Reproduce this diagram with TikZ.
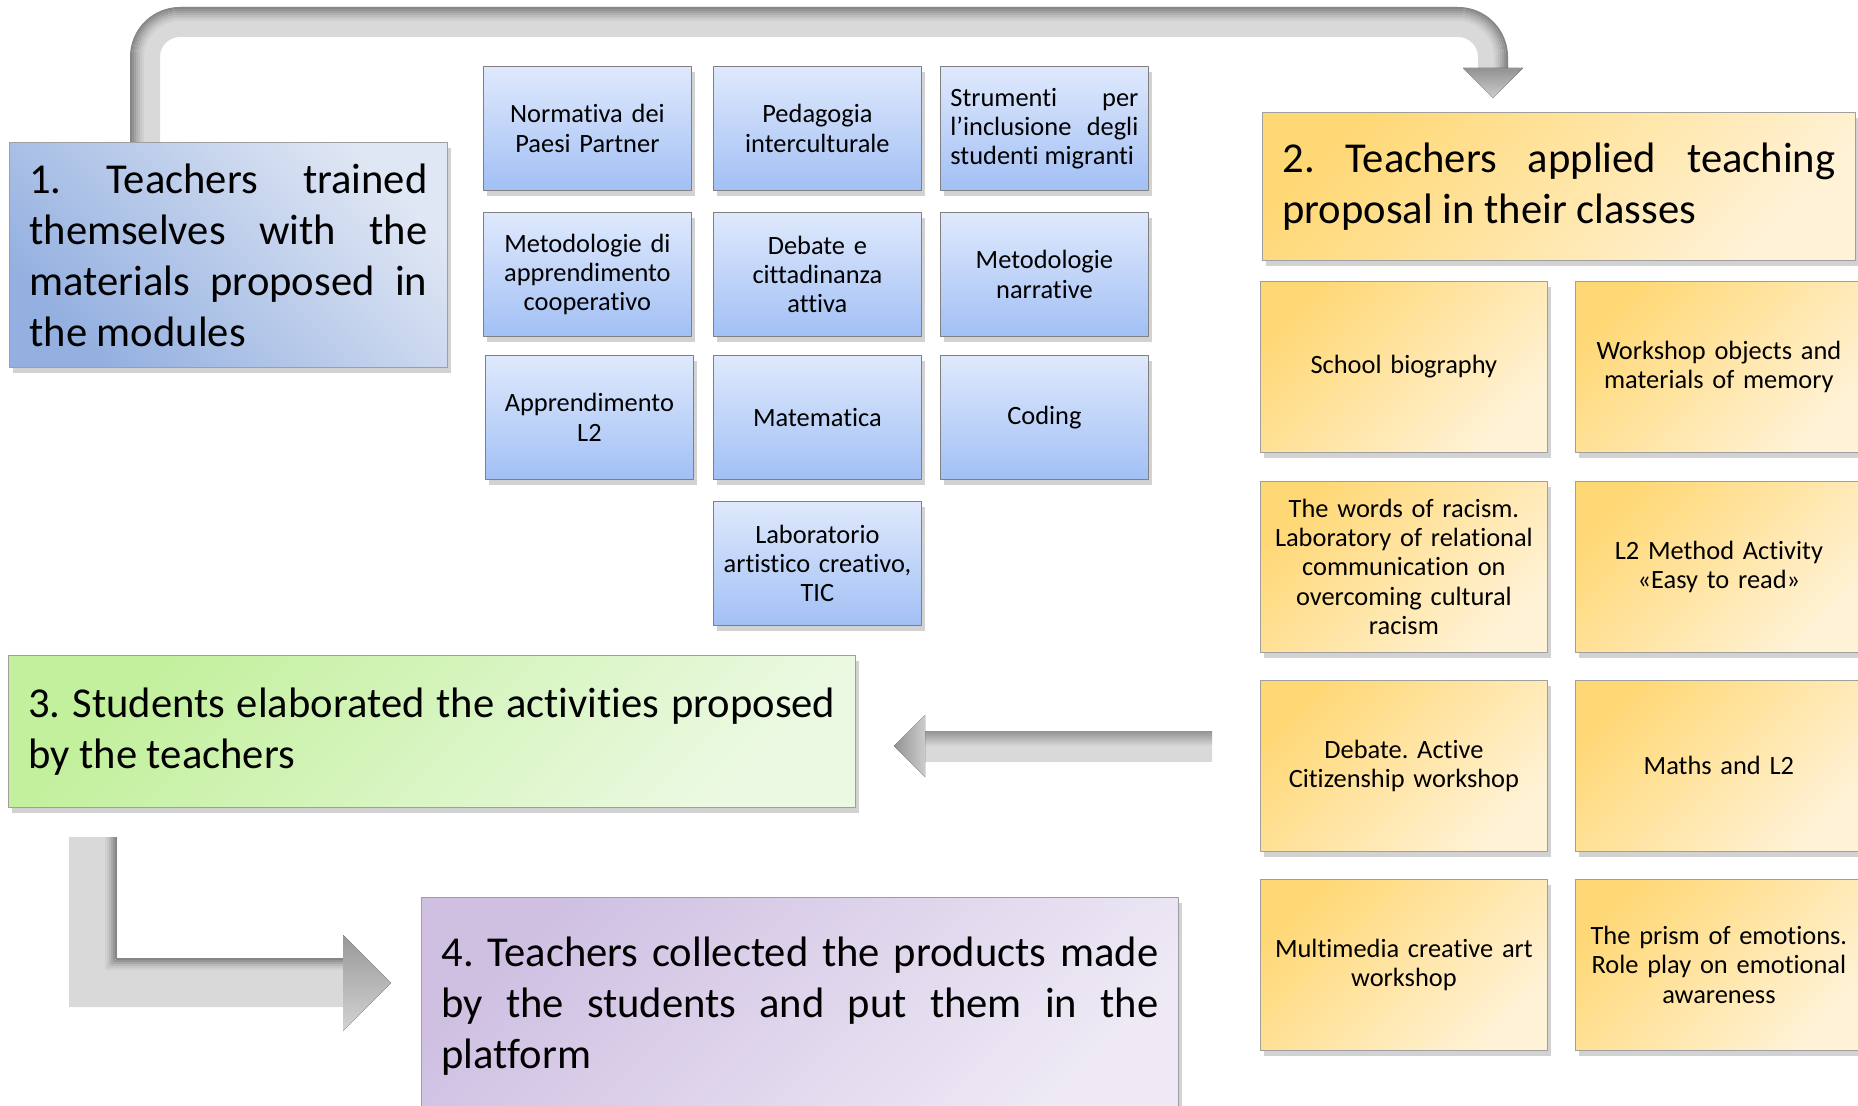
\documentclass[tikz,border=0pt]{standalone}
\usepackage{fontspec}
\setmainfont{Carlito}[Ligatures={NoCommon}]
\usetikzlibrary{shadows}
\hbadness=10000
\frenchspacing
\definecolor{modtop}{RGB}{223,233,252}
\definecolor{modbot}{RGB}{162,192,245}
\definecolor{trainA}{RGB}{148,176,224}
\definecolor{trainB}{RGB}{224,231,244}
\definecolor{yelA}{RGB}{255,216,118}
\definecolor{yelB}{RGB}{255,242,214}
\definecolor{grnA}{RGB}{194,240,156}
\definecolor{grnB}{RGB}{235,249,226}
\definecolor{purA}{RGB}{207,192,226}
\definecolor{purB}{RGB}{238,233,245}
\definecolor{arrfill}{RGB}{217,217,217}
\tikzset{
  boxshadow/.style={drop shadow={shadow xshift=2pt, shadow yshift=-3pt, opacity=0.22, fill=black!80}},
  stepbox/.style={boxshadow, draw=gray!75, anchor=north west, inner xsep=10pt, inner ysep=0pt, align=justify, font={\fontsize{21.3pt}{25.5pt}\selectfont}},
  modbox/.style={boxshadow, draw=gray, top color=modtop, bottom color=modbot, anchor=north west, text width=94pt, inner xsep=5pt, inner ysep=0pt, minimum height=62pt, align=center, font={\fontsize{13.2pt}{14.6pt}\selectfont}},
  actbox/.style={boxshadow, draw=gray!75, top color=yelA, bottom color=yelB, shading angle=45, anchor=north west, text width=135pt, inner xsep=4.25pt, inner ysep=0pt, minimum height=85.5pt, align=center, font={\fontsize{13.2pt}{14.6pt}\selectfont}},
}
\begin{document}
\begin{tikzpicture}[x=0.5pt, y=-0.5pt, line join=round]
\useasboundingbox (0,0) rectangle (1858,1106);
% arrow 1 -> 2 (over the top)
\draw[line width=15pt, arrfill, rounded corners=17.5pt] (145,142) -- (145,22) -- (1493,22) -- (1493,69);
\foreach \o/\g [evaluate=\o as \r using (50-\o)*0.5] in {1/95,3/85,5/74,7/63,9/53,11/44,13/37}
  \draw[line width=1pt, gray!\g, rounded corners=\r pt] ({130+\o},142) -- ({130+\o},{7+\o}) -- ({1508-\o},{7+\o}) -- ({1508-\o},69);
\fill[top color=gray!85, bottom color=gray!40] (1463,68) -- (1523,68) -- (1493,98) -- cycle;
% arrow activities -> 3
\fill[top color=gray!85, bottom color=arrfill, middle color=arrfill] (924,731) rectangle (1212,761);
\fill[left color=gray!85, right color=gray!40] (894,746) -- (925,715) -- (925,777) -- cycle;
% arrow 3 -> 4
\fill[arrfill] (69,837) -- (117,837) -- (117,958) -- (344,958) -- (344,1007) -- (69,1007) -- cycle;
\foreach \o/\g in {1/95,3/82,5/68,7/55,9/44,11/37}
  \draw[line width=1pt, gray!\g] ({117-\o},837) -- ({117-\o},{958+\o}) -- (344,{958+\o});
\fill[top color=gray!80, bottom color=gray!35] (343,935) -- (391,983) -- (343,1031) -- cycle;
% the four steps
\node[stepbox, top color=trainB, bottom color=trainA, shading angle=-45, text width=199pt, minimum height=112.5pt] (train) at (9,142) {1. Teachers trained\linebreak themselves with the\linebreak materials proposed in\linebreak the modules};
\node[stepbox, top color=yelA, bottom color=yelB, shading angle=45, text width=276.5pt, minimum height=74pt] (apply) at (1262,112) {2. Teachers applied teaching\linebreak proposal in their classes};
\node[stepbox, top color=grnA, bottom color=grnB, shading angle=45, text width=403.5pt, minimum height=76pt] (elab) at (8,655) {3. Students elaborated the activities proposed\linebreak by the teachers};
\node[stepbox, top color=purA, bottom color=purB, shading angle=45, text width=358.5pt, minimum height=109pt] (collect) at (421,897) {4. Teachers collected the products made\linebreak by the students and put them in the\linebreak platform};
% modules
\node[modbox] (m11) at (483,66) {Normativa dei\\Paesi Partner};
\node[modbox] (m12) at (713,66) {Pedagogia\\interculturale};
\node[modbox, align=justify] (m13) at (940,66) {Strumenti per\linebreak l’inclusione degli\linebreak studenti migranti};
\node[modbox] (m21) at (483,212) {Metodologie di\\apprendimento\\cooperativo};
\node[modbox] (m22) at (713,212) {Debate e\\cittadinanza\\attiva};
\node[modbox] (m23) at (940,212) {Metodologie\\narrative};
\node[modbox] (m31) at (485,355) {Apprendimento\\L2};
\node[modbox] (m32) at (713,355) {Matematica};
\node[modbox] (m33) at (940,355) {Coding};
\node[modbox] (m42) at (713,501) {Laboratorio\\artistico creativo,\\TIC};
% activities
\node[actbox] (a11) at (1260,281) {School biography};
\node[actbox] (a12) at (1575,281) {Workshop objects and\\materials of memory};
\node[actbox] (a21) at (1260,481) {The words of racism.\\Laboratory of relational\\communication on\\overcoming cultural\\racism};
\node[actbox] (a22) at (1575,481) {L2 Method Activity\\«Easy to read»};
\node[actbox] (a31) at (1260,680) {Debate. Active\\Citizenship workshop};
\node[actbox] (a32) at (1575,680) {Maths and L2};
\node[actbox] (a41) at (1260,879) {Multimedia creative art\\workshop};
\node[actbox] (a42) at (1575,879) {The prism of emotions.\\Role play on emotional\\awareness};
\end{tikzpicture}
\end{document}
